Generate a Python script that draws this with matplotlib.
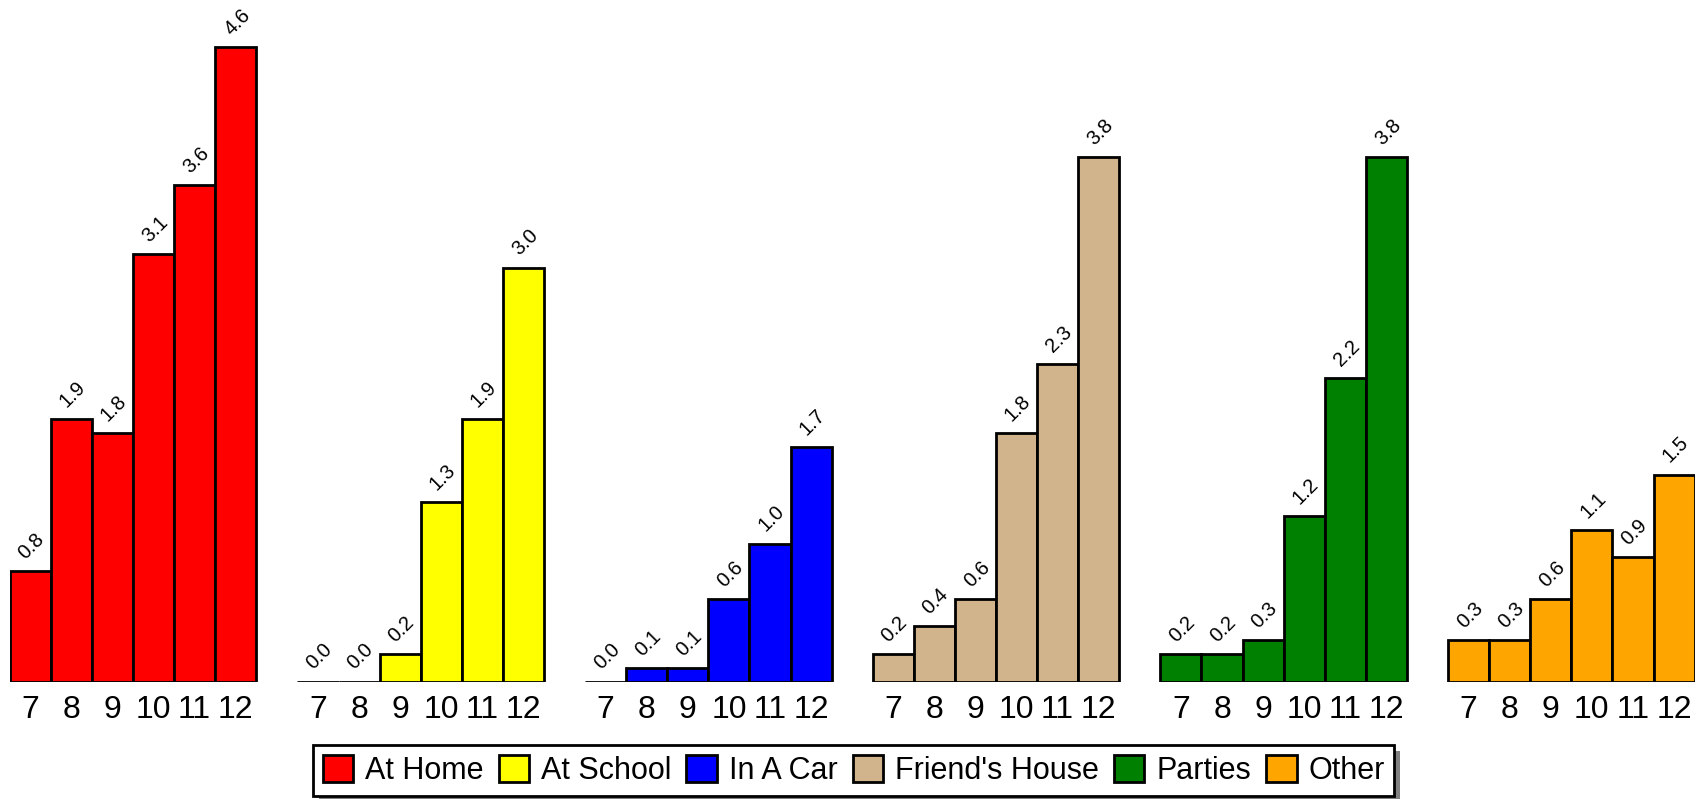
import matplotlib
matplotlib.use("Agg")
import matplotlib.pyplot as plt
from matplotlib.patches import Patch, Rectangle

plt.rcParams['font.family'] = ['Liberation Sans', 'DejaVu Sans']

# --- Data ---
grades = ['7', '8', '9', '10', '11', '12']
places = ['At Home', 'At School', 'In A Car', "Friend's House", 'Parties', 'Other']
at_home = [0.8, 1.9, 1.8, 3.1, 3.6, 4.6]
at_school = [0.0, 0.0, 0.2, 1.3, 1.9, 3.0]
in_a_car = [0.0, 0.1, 0.1, 0.6, 1.0, 1.7]
friends_house = [0.2, 0.4, 0.6, 1.8, 2.3, 3.8]
parties = [0.2, 0.2, 0.3, 1.2, 2.2, 3.8]
other = [0.3, 0.3, 0.6, 1.1, 0.9, 1.5]
series = [at_home, at_school, in_a_car, friends_house, parties, other]
colors = ['#FF0000', '#FFFF00', '#0000FF', '#D2B48C', '#008000', '#FFA500']

W, H = 1699, 799
fig = plt.figure(figsize=(W / 100, H / 100), dpi=100)

# axes placed in pixel terms: baseline at y=681, bars from x=10 to x=1695
base_px = 681.5
px_per_unit = 138.0
left_px, right_px = 9.75, 1694.6
ax = fig.add_axes([left_px / W, (H - base_px) / H,
                   (right_px - left_px) / W, base_px / H])
ax.set_ylim(0, base_px / px_per_unit)

n = len(grades)
gap = 1
xticks, xlabels = [], []
for g, (vals, col) in enumerate(zip(series, colors)):
    xs = [g * (n + gap) + i for i in range(n)]
    ax.bar(xs, vals, width=1.0, color=col, edgecolor='black', linewidth=2.0)
    for x, v in zip(xs, vals):
        ax.annotate(f'{v:.1f}', (x, v), xytext=(1, 6), textcoords='offset points',
                    ha='center', va='bottom', rotation=45, fontsize=14.5)
    xticks += xs
    xlabels += grades

ax.set_xlim(-0.5, len(series) * (n + gap) - gap - 0.5)
ax.set_xticks(xticks)
ax.set_xticklabels(xlabels, fontsize=23)
ax.tick_params(axis='x', length=0, pad=10)
ax.set_yticks([])
for s in ax.spines.values():
    s.set_visible(False)

handles = [Patch(facecolor=c, edgecolor='black', linewidth=2.0) for c in colors]
leg = fig.legend(handles, places, loc='lower center', bbox_to_anchor=(0.5024, 0.004),
                 ncol=6, fontsize=22, frameon=True, fancybox=False,
                 framealpha=1.0, facecolor='white',
                 handlelength=1.0, handleheight=1.0, handletextpad=0.38,
                 columnspacing=0.5, borderpad=0.32, borderaxespad=0.0)
leg.get_frame().set_edgecolor('black')
leg.get_frame().set_linewidth(2.0)
leg.set_zorder(5)

# drop shadow behind the legend box
fig.canvas.draw()
bb = leg.get_window_extent()
fig.patches.append(Rectangle((bb.x0 + 6, bb.y0 - 6), bb.width, bb.height,
                             transform=None, facecolor='#808080',
                             edgecolor='none', zorder=4))

fig.savefig('out.png', dpi=100)
